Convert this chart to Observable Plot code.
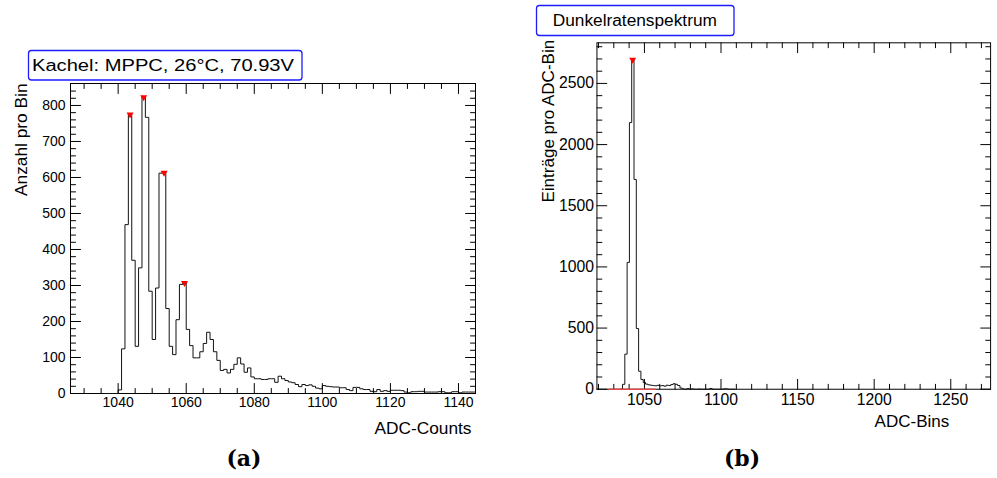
<!DOCTYPE html>
<html><head><meta charset="utf-8">
<script src="https://cdn.jsdelivr.net/npm/d3@7"></script>
<script src="https://cdn.jsdelivr.net/npm/@observablehq/plot@0.6"></script>
<style>
html,body{margin:0;padding:0;background:#fff;overflow:hidden}
#fig{position:relative;width:997px;height:478px;overflow:hidden;font-family:"Liberation Sans",Arial,sans-serif}
#fig > .panel{position:absolute;top:0}
#overlay{position:absolute;left:0;top:0}
</style></head><body><div id="fig"></div>
<script>
// ---------- Panel (a) ----------
const leftTitle = "Kachel: MPPC, 26°C, 70.93V";
const leftXLabel = "ADC-Counts";
const leftYLabel = "Anzahl pro Bin";
const leftBinStart = 1036;
const leftBinWidth = 1;
const leftCounts = [
  0, 0, 0, 0, 10, 124, 469, 775, 370, 131,
  349, 823, 767, 284, 150, 293, 612, 615, 236, 131,
  108, 205, 303, 307, 178, 133, 99, 99, 116, 139,
  170, 150, 116, 92, 64, 67, 57, 67, 81, 99,
  82, 59, 71, 46, 41, 41, 39, 39, 41, 41,
  31, 48, 41, 36, 32, 30, 25, 19, 25, 22,
  24, 20, 15, 13, 22, 20, 19, 18, 18, 16,
  16, 11, 8, 17, 17, 13, 11, 11, 6, 5,
  11, 6, 8, 6, 9, 9, 9, 8, 4, 2,
  5, 5, 6, 6, 4, 4, 4, 4, 5, 5,
  2, 2, 5, 5, 2, 4, 4, 4, 4
];
const leftPeaksX = [1043.5, 1047.5, 1053.5, 1059.5];
const leftPeaksY = [775, 823, 613, 307];
const leftXTicks = [1040, 1060, 1080, 1100, 1120, 1140];
const leftYTicks = [0, 100, 200, 300, 400, 500, 600, 700, 800];

// ---------- Panel (b) ----------
const rightTitle = "Dunkelratenspektrum";
const rightXLabel = "ADC-Bins";
const rightYLabel = "Einträge pro ADC-Bin";
const rightBinStart = 1034.2;
const rightBinWidth = 1.5;
const rightCounts = [
  0, 40, 287, 1037, 2180, 2693, 1715, 496, 147, 80,
  55, 42, 36, 33, 30, 28, 32, 27, 30, 25,
  33, 30, 38, 45, 40, 30, 10, 3, 0, 5,
  0, 3, 0, 0, 2, 0, 0, 0, 0, 6,
  0, 0, 0, 0, 0, 4, 3, 0, 0, 0
];
const rightPeakX = [1042.3];
const rightPeakY = [2693];
const rightFitX = [1027, 1057];
const rightFitY = [0, 0];
const rightXTicks = [1050, 1100, 1150, 1200, 1250];
const rightYTicks = [0, 500, 1000, 1500, 2000, 2500];

const captions = ["(a)", "(b)"];

// ---------- helpers ----------
const FONT = '"Liberation Sans", Arial, Helvetica, sans-serif';
function histPoints(start, width, counts) {
  const pts = counts.map((c, i) => ({x: start + i * width, y: c}));
  pts.push({x: start + counts.length * width, y: counts[counts.length - 1]});
  return pts;
}
const triDown = {
  draw(ctx, size) {
    const s = Math.sqrt(size / (Math.sqrt(3) / 4));
    const h = s * Math.sqrt(3) / 2;
    ctx.moveTo(-s / 2, -h / 3);
    ctx.lineTo(s / 2, -h / 3);
    ctx.lineTo(0, 2 * h / 3);
    ctx.closePath();
  }
};
const tickShape = {draw(ctx, l) { ctx.moveTo(0, 0); ctx.lineTo(0, -l); }};
function tickMarks(xMajor, xMinor, yMajor, yMinor) {
  const out = [];
  const common = {shape: tickShape, anchor: "start", stroke: "#000", strokeWidth: 1};
  for (const [ticks, len] of [[xMajor, 10], [xMinor, 5]]) {
    out.push(Plot.vector(ticks, {x: d => d, frameAnchor: "bottom", rotate: 0, length: len, ...common}));
    out.push(Plot.vector(ticks, {x: d => d, frameAnchor: "top", rotate: 180, length: len, ...common}));
  }
  for (const [ticks, len] of [[yMajor, 10], [yMinor, 5]]) {
    out.push(Plot.vector(ticks, {y: d => d, frameAnchor: "left", rotate: 90, length: len, ...common}));
    out.push(Plot.vector(ticks, {y: d => d, frameAnchor: "right", rotate: -90, length: len, ...common}));
  }
  return out;
}

const fig = document.getElementById("fig");

// ---------- left plot ----------
const leftXMinor = d3.range(1030, 1145, 5).filter(v => !leftXTicks.includes(v));
const leftYMinor = d3.range(20, 860, 20).filter(v => !leftYTicks.includes(v));
const leftPeaks = leftPeaksX.map((x, i) => ({x, y: leftPeaksY[i]}));
const leftPlot = Plot.plot({
  width: 490, height: 478,
  marginLeft: 70, marginRight: 15, marginTop: 83, marginBottom: 85,
  x: {domain: [1026, 1145], axis: null},
  y: {domain: [0, 861], axis: null},
  style: {fontFamily: FONT, color: "#000", background: "transparent", overflow: "visible"},
  marks: [
    Plot.frame({stroke: "#000"}),
    Plot.line(histPoints(leftBinStart, leftBinWidth, leftCounts), {x: "x", y: "y", curve: "step-after", stroke: "#111", strokeWidth: 1}),
    ...tickMarks(leftXTicks, leftXMinor, leftYTicks, leftYMinor),
    Plot.text(leftXTicks, {x: d => d, text: d => String(d), frameAnchor: "bottom", lineAnchor: "top", dy: 4, fontSize: 14, fill: "#000"}),
    Plot.text(leftYTicks, {y: d => d, text: d => String(d), frameAnchor: "left", textAnchor: "end", lineAnchor: "middle", dx: -5, fontSize: 14, fill: "#000"}),
    Plot.dot(leftPeaks, {x: "x", y: "y", symbol: triDown, r: 2.6, fill: "red", stroke: "none"}),
    Plot.text([leftXLabel], {frameAnchor: "bottom-right", text: d => d, textAnchor: "end", lineAnchor: "bottom", dx: -4, dy: 40, fontSize: 17.3, fill: "#000"}),
    Plot.text([leftYLabel], {frameAnchor: "top-left", text: d => d, textAnchor: "end", lineAnchor: "bottom", rotate: -90, dx: -44, dy: 0, fontSize: 17.3, fill: "#000"})
  ]
});
const leftDiv = document.createElement("div");
leftDiv.className = "panel";
leftDiv.style.left = "0px";
leftDiv.appendChild(leftPlot);
fig.appendChild(leftDiv);

// ---------- right plot ----------
const rightXMinor = d3.range(1020, 1280, 10).filter(v => !rightXTicks.includes(v));
const rightYMinor = d3.range(100, 2900, 100).filter(v => !rightYTicks.includes(v));
const rightPlot = Plot.plot({
  width: 505, height: 478,
  marginLeft: 98, marginRight: 7, marginTop: 43, marginBottom: 83,
  x: {domain: [1019, 1276], axis: null},
  y: {domain: [0, 2832], axis: null},
  style: {fontFamily: FONT, color: "#000", background: "transparent", overflow: "visible"},
  marks: [
    Plot.frame({stroke: "#000"}),
    Plot.line(histPoints(rightBinStart, rightBinWidth, rightCounts), {x: "x", y: "y", curve: "step-after", stroke: "#111", strokeWidth: 1}),
    ...tickMarks(rightXTicks, rightXMinor, rightYTicks, rightYMinor),
    Plot.line(rightFitX.map((x, i) => ({x, y: rightFitY[i]})), {x: "x", y: "y", stroke: "#e04848", strokeWidth: 1.6}),
    Plot.text(rightXTicks, {x: d => d, text: d => String(d), frameAnchor: "bottom", lineAnchor: "top", dy: 5, fontSize: 16, fill: "#000"}),
    Plot.text(rightYTicks, {y: d => d, text: d => String(d), frameAnchor: "left", textAnchor: "end", lineAnchor: "middle", dx: -3, fontSize: 16, fill: "#000"}),
    Plot.dot(rightPeakX.map((x, i) => ({x, y: rightPeakY[i]})), {x: "x", y: "y", symbol: triDown, r: 2.6, fill: "red", stroke: "none"}),
    Plot.text([rightXLabel], {frameAnchor: "bottom-right", text: d => d, textAnchor: "end", lineAnchor: "bottom", dx: -42, dy: 38, fontSize: 17.3, fill: "#000"}),
    Plot.text([rightYLabel], {frameAnchor: "top-left", text: d => d, textAnchor: "end", lineAnchor: "bottom", rotate: -90, dx: -44, dy: -3, fontSize: 17.3, fill: "#000"})
  ]
});
const rightDiv = document.createElement("div");
rightDiv.className = "panel";
rightDiv.style.left = "500px";
rightDiv.appendChild(rightPlot);
fig.appendChild(rightDiv);

// ---------- overlay: title boxes and captions ----------
const ov = d3.select(fig).append("svg").attr("id", "overlay").attr("width", 997).attr("height", 478)
  .style("font-family", FONT);
function titleBox(x, y, w, h, tx, ty, text, textLength) {
  ov.append("rect").attr("x", x).attr("y", y).attr("width", w).attr("height", h)
    .attr("rx", 3).attr("fill", "#fff").attr("stroke", "#1c1cff").attr("stroke-width", 1.3);
  const t = ov.append("text").attr("x", tx).attr("y", ty).attr("font-size", 17.3).attr("fill", "#000").text(text);
  if (textLength) t.attr("textLength", textLength).attr("lengthAdjust", "spacingAndGlyphs");
}
titleBox(28.5, 50.5, 273.5, 29.5, 32, 70.6, leftTitle, 262);
titleBox(536.5, 5.5, 197.5, 30, 552.7, 26, rightTitle, null);
ov.append("text").attr("x", 244).attr("y", 466).attr("text-anchor", "middle")
  .attr("font-family", '"DejaVu Serif", "Liberation Serif", serif').attr("font-weight", "bold")
  .attr("font-size", 22).attr("fill", "#000").text(captions[0]);
ov.append("text").attr("x", 742).attr("y", 466).attr("text-anchor", "middle")
  .attr("font-family", '"DejaVu Serif", "Liberation Serif", serif').attr("font-weight", "bold")
  .attr("font-size", 22).attr("fill", "#000").text(captions[1]);
</script></body></html>
